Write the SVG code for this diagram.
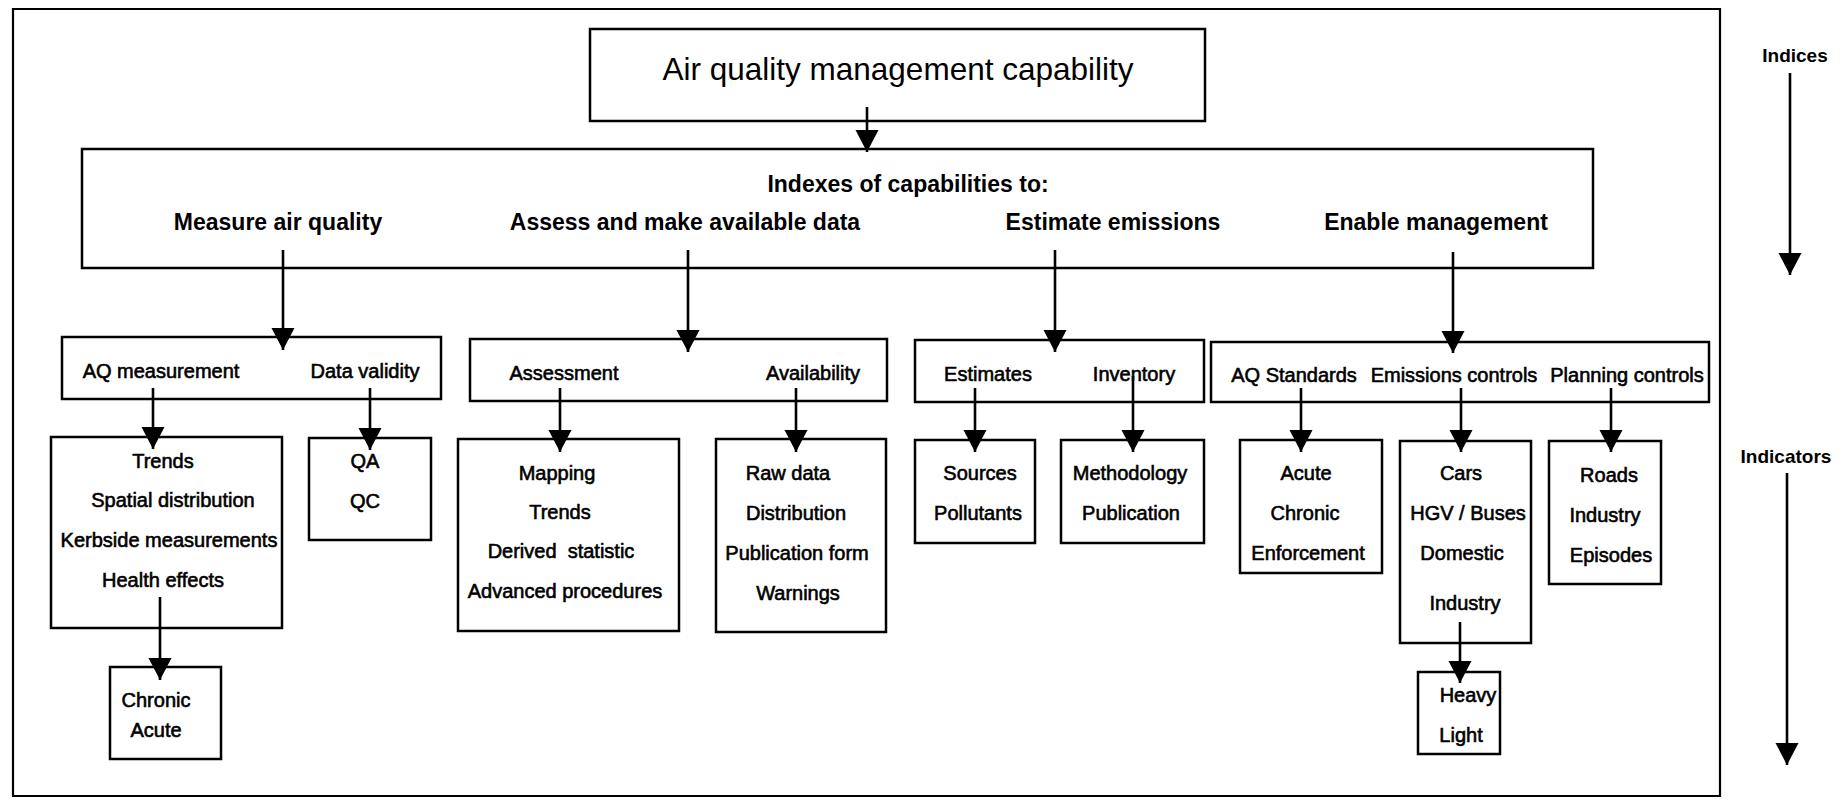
<svg xmlns="http://www.w3.org/2000/svg" width="1848" height="801" viewBox="0 0 1848 801">
<defs>
<marker id="ah" markerUnits="userSpaceOnUse" markerWidth="24" markerHeight="24" refX="22" refY="11.5" orient="auto">
<path d="M0,0 L22,11.5 L0,23 Z" fill="#000"/>
</marker>
<style>
.bx{fill:#fff;stroke:#000;stroke-width:2.5}
.fr{fill:none;stroke:#000;stroke-width:2.2}
.cn{fill:none;stroke:#000;stroke-width:2.6;marker-end:url(#ah)}
text{font-family:"Liberation Sans",Arial,sans-serif;fill:#000;text-anchor:middle}
.t0{font-size:31.5px}
.hd{font-size:23px;font-weight:bold}
.sm{font-size:20px;stroke:#000;stroke-width:0.6}
.sd{font-size:19px;font-weight:bold}
</style>
</defs>
<rect width="1848" height="801" fill="#fff"/>
<path class="fr" d="M13,9 H1720 V796 H13 Z"/>

<g id="top">
<rect class="bx" x="590" y="29" width="615" height="92"/>
<text class="t0" x="898" y="80">Air quality management capability</text>
</g>

<g id="indexes">
<rect class="bx" x="82" y="149" width="1511" height="119"/>
<text class="hd" x="908" y="192">Indexes of capabilities to:</text>
<text class="hd" x="278" y="230">Measure air quality</text>
<text class="hd" x="685" y="230">Assess and make available data</text>
<text class="hd" x="1113" y="230">Estimate emissions</text>
<text class="hd" x="1436" y="230">Enable management</text>
</g>

<g id="measure">
<rect class="bx" x="62" y="337" width="379" height="62"/>
<text class="sm" x="161" y="378">AQ measurement</text>
<text class="sm" x="365" y="378">Data validity</text>
</g>
<g id="assess">
<rect class="bx" x="470" y="339" width="417" height="62"/>
<text class="sm" x="564" y="380">Assessment</text>
<text class="sm" x="813" y="380">Availability</text>
</g>
<g id="estimate">
<rect class="bx" x="915" y="340" width="289" height="62"/>
<text class="sm" x="988" y="381">Estimates</text>
<text class="sm" x="1134" y="381">Inventory</text>
</g>
<g id="enable">
<rect class="bx" x="1211" y="342" width="498" height="60"/>
<text class="sm" x="1294" y="382">AQ Standards</text>
<text class="sm" x="1454" y="382">Emissions controls</text>
<text class="sm" x="1627" y="382">Planning controls</text>
</g>

<g id="aq-items">
<rect class="bx" x="51" y="437" width="231" height="191"/>
<text class="sm" x="163" y="468">Trends</text>
<text class="sm" x="173" y="507">Spatial distribution</text>
<text class="sm" x="169" y="547">Kerbside measurements</text>
<text class="sm" x="163" y="587">Health effects</text>
</g>
<g id="health">
<rect class="bx" x="110" y="667" width="111" height="92"/>
<text class="sm" x="156" y="707">Chronic</text>
<text class="sm" x="156" y="737">Acute</text>
</g>
<g id="validity">
<rect class="bx" x="309" y="438" width="122" height="102"/>
<text class="sm" x="365" y="468">QA</text>
<text class="sm" x="365" y="508">QC</text>
</g>
<g id="assessment">
<rect class="bx" x="458" y="439" width="221" height="192"/>
<text class="sm" x="557" y="480">Mapping</text>
<text class="sm" x="560" y="519">Trends</text>
<text class="sm" x="561" y="558" xml:space="preserve">Derived  statistic</text>
<text class="sm" x="565" y="598">Advanced procedures</text>
</g>
<g id="availability">
<rect class="bx" x="716" y="439" width="170" height="193"/>
<text class="sm" x="788" y="480">Raw data</text>
<text class="sm" x="796" y="520">Distribution</text>
<text class="sm" x="797" y="560">Publication form</text>
<text class="sm" x="798" y="600">Warnings</text>
</g>
<g id="estimates">
<rect class="bx" x="915" y="440" width="120" height="103"/>
<text class="sm" x="980" y="480">Sources</text>
<text class="sm" x="978" y="520">Pollutants</text>
</g>
<g id="inventory">
<rect class="bx" x="1061" y="440" width="143" height="103"/>
<text class="sm" x="1130" y="480">Methodology</text>
<text class="sm" x="1131" y="520">Publication</text>
</g>
<g id="standards">
<rect class="bx" x="1240" y="440" width="142" height="133"/>
<text class="sm" x="1306" y="480">Acute</text>
<text class="sm" x="1305" y="520">Chronic</text>
<text class="sm" x="1308" y="560">Enforcement</text>
</g>
<g id="emissions">
<rect class="bx" x="1400" y="441" width="131" height="202"/>
<text class="sm" x="1461" y="480">Cars</text>
<text class="sm" x="1468" y="520">HGV / Buses</text>
<text class="sm" x="1462" y="560">Domestic</text>
<text class="sm" x="1465" y="610">Industry</text>
</g>
<g id="industry">
<rect class="bx" x="1418" y="672" width="82" height="82"/>
<text class="sm" x="1468" y="702">Heavy</text>
<text class="sm" x="1461" y="742">Light</text>
</g>
<g id="planning">
<rect class="bx" x="1549" y="441" width="112" height="143"/>
<text class="sm" x="1609" y="482">Roads</text>
<text class="sm" x="1605" y="522">Industry</text>
<text class="sm" x="1611" y="562">Episodes</text>
</g>

<g id="scale">
<text class="sd" x="1795" y="62">Indices</text>
<text class="sd" x="1786" y="463">Indicators</text>
</g>

<g id="connectors">
<path class="cn" d="M867,107 V152"/>
<path class="cn" d="M283,250 V350"/>
<path class="cn" d="M688,250 V352"/>
<path class="cn" d="M1055,250 V352"/>
<path class="cn" d="M1453,252 V353"/>
<path class="cn" d="M153,388 V449"/>
<path class="cn" d="M370,388 V450"/>
<path class="cn" d="M560,388 V452"/>
<path class="cn" d="M796,388 V452"/>
<path class="cn" d="M975,388 V452"/>
<path class="cn" d="M1133,376 V452"/>
<path class="cn" d="M1301,388 V452"/>
<path class="cn" d="M1461,388 V452"/>
<path class="cn" d="M1611,388 V452"/>
<path class="cn" d="M160,597 V680"/>
<path class="cn" d="M1460,622 V683"/>
<path class="cn" d="M1790,73 V275"/>
<path class="cn" d="M1787,473 V765"/>
</g>
</svg>
